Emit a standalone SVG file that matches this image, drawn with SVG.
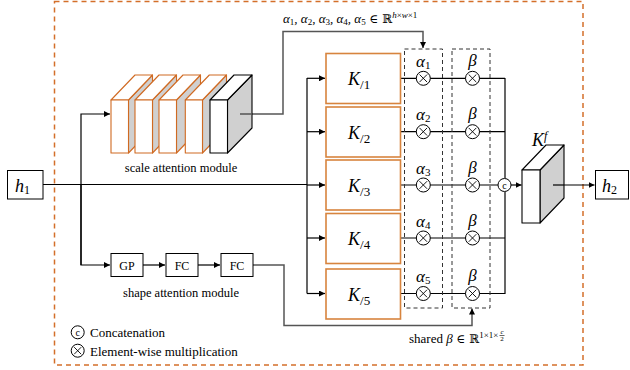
<svg xmlns="http://www.w3.org/2000/svg" width="630" height="370" viewBox="0 0 630 370">
<defs>
<marker id="ah" viewBox="0 0 10 10" refX="10" refY="5" markerWidth="6" markerHeight="6" markerUnits="userSpaceOnUse" orient="auto"><path d="M0,0 L10,5 L0,10 z" fill="#000"/></marker>
</defs>
<style>
text{font-family:'Liberation Serif','Times New Roman',serif;fill:#000}
.m{font-style:italic}
.sym{font-family:'DejaVu Serif','Liberation Serif',serif;font-style:normal}
.ln{fill:none;stroke:#000;stroke-width:1.2}
.lg{fill:none;stroke:#555;stroke-width:1.5}
.kbox{fill:#fff;stroke:#D7843E;stroke-width:1.6}
.box{fill:#fff;stroke:#000;stroke-width:1}
.oface{stroke:#D06A22;stroke-width:1.1;stroke-linejoin:round}
.bface{stroke:#000;stroke-width:1.1;stroke-linejoin:round}
.white{fill:#fff}
.grey{fill:#d0d0d0}
.dash{fill:none;stroke:#333;stroke-width:1;stroke-dasharray:4,3}
.op{fill:#fff;stroke:#000;stroke-width:1}
.x{stroke:#000;stroke-width:0.9}
</style>
<rect id="frame" x="54.5" y="1.5" width="528.5" height="363.5" fill="none" stroke="#D46F2A" stroke-width="1.5" stroke-dasharray="5,4"/>

<g id="connectors">
<line class="ln" x1="43" y1="184.5" x2="307" y2="184.5" stroke-width="1.8"/>
<polyline class="ln" points="81,265 81,114 110,114" marker-end="url(#ah)"/>
<polyline class="ln" points="81,185 81,265 110,265" marker-end="url(#ah)"/>
<line class="ln" x1="143" y1="265" x2="165" y2="265" marker-end="url(#ah)"/>
<line class="ln" x1="198" y1="265" x2="220" y2="265" marker-end="url(#ah)"/>
<polyline class="lg" points="240,114 283,114 283,31.5 423,31.5 423,48" marker-end="url(#ah)"/>
<polyline class="lg" points="253,265 284,265 284,325.5 472,325.5 472,308.5" marker-end="url(#ah)"/>
<line class="ln" x1="307" y1="78" x2="307" y2="293.5"/>
<line class="ln" x1="307" y1="78.3" x2="325" y2="78.3" marker-end="url(#ah)"/>
<line class="ln" x1="307" y1="131.7" x2="325" y2="131.7" marker-end="url(#ah)"/>
<line class="ln" x1="307" y1="185" x2="325" y2="185" marker-end="url(#ah)"/>
<line class="ln" x1="307" y1="238" x2="325" y2="238" marker-end="url(#ah)"/>
<line class="ln" x1="307" y1="293.5" x2="325" y2="293.5" marker-end="url(#ah)"/>
<polyline class="ln" points="401,78.3 505,78.3"/>
<polyline class="ln" points="401,131.7 505,131.7"/>
<polyline class="ln" points="401,185 498,185"/>
<polyline class="ln" points="401,238 505,238"/>
<polyline class="ln" points="401,293.5 505,293.5"/>
<line class="ln" x1="505" y1="78" x2="505" y2="178"/>
<line class="ln" x1="505" y1="192" x2="505" y2="294"/>
<line class="ln" x1="511" y1="185" x2="521.5" y2="185" marker-end="url(#ah)"/>
<line class="ln" x1="553" y1="185" x2="594.5" y2="185" marker-end="url(#ah)"/>
</g>

<g id="h1"><rect class="box" x="7.5" y="170.5" width="35.5" height="28.5"/><text class="m" x="15" y="192" font-size="18">h<tspan font-size="12" font-style="normal" dy="2">1</tspan></text></g>
<g id="h2"><rect class="box" x="595.5" y="170.5" width="33" height="28.5"/><text class="m" x="602" y="192" font-size="18">h<tspan font-size="12" font-style="normal" dy="2">2</tspan></text></g>

<g id="scale-stack">
<g class="oface">
<polygon class="grey" points="128.5,100 152.5,75 152.5,128 128.5,153"/><polygon class="white" points="111,100 135,75 152.5,75 128.5,100"/><rect class="white" x="111" y="100" width="17.5" height="53"/>
<polygon class="grey" points="152.5,100 176.5,75 176.5,128 152.5,153"/><polygon class="white" points="135,100 159,75 176.5,75 152.5,100"/><rect class="white" x="135" y="100" width="17.5" height="53"/>
<polygon class="grey" points="176.5,100 200.5,75 200.5,128 176.5,153"/><polygon class="white" points="159,100 183,75 200.5,75 176.5,100"/><rect class="white" x="159" y="100" width="17.5" height="53"/>
<polygon class="grey" points="202.5,100 226.5,75 226.5,128 202.5,153"/><polygon class="white" points="185.3,100 209.3,75 226.5,75 202.5,100"/><rect class="white" x="185.3" y="100" width="17.2" height="53"/>
</g>
<g class="bface">
<polygon class="grey" points="227.5,100 252,75 252,128 227.5,153"/><polygon class="white" points="210,100 234,75 252,75 227.5,100"/><rect class="white" x="210" y="100" width="17.5" height="53"/>
</g>
<line x1="240" y1="114" x2="252" y2="114" stroke="#555" stroke-width="1.5"/>
<text x="181" y="171.5" font-size="12.5" text-anchor="middle">scale attention module</text>
</g>

<g id="shape-module">
<rect class="box" x="111" y="253.5" width="32" height="23"/><text x="127" y="269.5" font-size="12" text-anchor="middle">GP</text>
<rect class="box" x="166" y="253.5" width="32" height="23"/><text x="182" y="269.5" font-size="12" text-anchor="middle">FC</text>
<rect class="box" x="221" y="253.5" width="32" height="23"/><text x="237" y="269.5" font-size="12" text-anchor="middle">FC</text>
<text x="181" y="296.5" font-size="12.5" text-anchor="middle">shape attention module</text>
</g>

<text class="m" x="283" y="23" font-size="13">α<tspan font-size="9" font-style="normal" dy="2">1</tspan><tspan dy="-2">, α</tspan><tspan font-size="9" font-style="normal" dy="2">2</tspan><tspan dy="-2">, α</tspan><tspan font-size="9" font-style="normal" dy="2">3</tspan><tspan dy="-2">, α</tspan><tspan font-size="9" font-style="normal" dy="2">4</tspan><tspan dy="-2">, α</tspan><tspan font-size="9" font-style="normal" dy="2">5</tspan><tspan class="sym" dy="-2" font-size="12"> ∈ ℝ</tspan><tspan font-size="9" dy="-5">h</tspan><tspan font-size="9" font-style="normal">×</tspan><tspan font-size="9">w</tspan><tspan font-size="9" font-style="normal">×1</tspan></text>

<g id="K1"><rect class="kbox" x="326" y="53.5" width="74.5" height="50"/><text class="m" x="348" y="85" font-size="18">K<tspan font-size="13" font-style="normal" dy="4">/1</tspan></text></g>
<g id="K2"><rect class="kbox" x="326" y="107" width="74.5" height="50"/><text class="m" x="348" y="138.5" font-size="18">K<tspan font-size="13" font-style="normal" dy="4">/2</tspan></text></g>
<g id="K3"><rect class="kbox" x="326" y="160" width="74.5" height="50"/><text class="m" x="348" y="191.5" font-size="18">K<tspan font-size="13" font-style="normal" dy="4">/3</tspan></text></g>
<g id="K4"><rect class="kbox" x="326" y="213.5" width="74.5" height="50"/><text class="m" x="348" y="245" font-size="18">K<tspan font-size="13" font-style="normal" dy="4">/4</tspan></text></g>
<g id="K5"><rect class="kbox" x="326" y="269" width="74.5" height="50"/><text class="m" x="348" y="300.5" font-size="18">K<tspan font-size="13" font-style="normal" dy="4">/5</tspan></text></g>

<g id="alpha-col">
<rect class="dash" x="404.5" y="49" width="38" height="259"/>
<g id="a1"><circle class="op" cx="423.3" cy="78.3" r="7"/><path class="x" d="M419.5,74.5 l7.6,7.6 M427.1,74.5 l-7.6,7.6"/><text class="m" x="416" y="67" font-size="17">α<tspan font-size="11" font-style="normal" dy="2">1</tspan></text></g>
<g id="a2"><circle class="op" cx="423.3" cy="131.7" r="7"/><path class="x" d="M419.5,127.9 l7.6,7.6 M427.1,127.9 l-7.6,7.6"/><text class="m" x="416" y="120.4" font-size="17">α<tspan font-size="11" font-style="normal" dy="2">2</tspan></text></g>
<g id="a3"><circle class="op" cx="423.3" cy="185" r="7"/><path class="x" d="M419.5,181.2 l7.6,7.6 M427.1,181.2 l-7.6,7.6"/><text class="m" x="416" y="173.7" font-size="17">α<tspan font-size="11" font-style="normal" dy="2">3</tspan></text></g>
<g id="a4"><circle class="op" cx="423.3" cy="238" r="7"/><path class="x" d="M419.5,234.2 l7.6,7.6 M427.1,234.2 l-7.6,7.6"/><text class="m" x="416" y="226.7" font-size="17">α<tspan font-size="11" font-style="normal" dy="2">4</tspan></text></g>
<g id="a5"><circle class="op" cx="423.3" cy="293.5" r="7"/><path class="x" d="M419.5,289.7 l7.6,7.6 M427.1,289.7 l-7.6,7.6"/><text class="m" x="416" y="282.2" font-size="17">α<tspan font-size="11" font-style="normal" dy="2">5</tspan></text></g>
</g>

<g id="beta-col">
<rect class="dash" x="452" y="49" width="38" height="259"/>
<g id="b1"><circle class="op" cx="472.5" cy="78.3" r="7"/><path class="x" d="M468.7,74.5 l7.6,7.6 M476.3,74.5 l-7.6,7.6"/><text class="m" x="472.5" y="66" font-size="17" text-anchor="middle">β</text></g>
<g id="b2"><circle class="op" cx="472.5" cy="131.7" r="7"/><path class="x" d="M468.7,127.9 l7.6,7.6 M476.3,127.9 l-7.6,7.6"/><text class="m" x="472.5" y="119.4" font-size="17" text-anchor="middle">β</text></g>
<g id="b3"><circle class="op" cx="472.5" cy="185" r="7"/><path class="x" d="M468.7,181.2 l7.6,7.6 M476.3,181.2 l-7.6,7.6"/><text class="m" x="472.5" y="172.7" font-size="17" text-anchor="middle">β</text></g>
<g id="b4"><circle class="op" cx="472.5" cy="238" r="7"/><path class="x" d="M468.7,234.2 l7.6,7.6 M476.3,234.2 l-7.6,7.6"/><text class="m" x="472.5" y="225.7" font-size="17" text-anchor="middle">β</text></g>
<g id="b5"><circle class="op" cx="472.5" cy="293.5" r="7"/><path class="x" d="M468.7,289.7 l7.6,7.6 M476.3,289.7 l-7.6,7.6"/><text class="m" x="472.5" y="281.2" font-size="17" text-anchor="middle">β</text></g>
</g>

<g id="concat"><circle class="op" cx="504.5" cy="185" r="6.5"/><text x="504.5" y="188.5" font-size="10" text-anchor="middle">c</text></g>

<g id="Kf">
<g class="bface">
<polygon class="grey" points="540,170 564,145 564,198 540,223"/>
<polygon class="white" points="522,170 546,145 564,145 540,170"/>
<rect class="white" x="522" y="170" width="18" height="53"/>
</g>
<line x1="553" y1="185" x2="564" y2="185" stroke="#000" stroke-width="1.2"/>
<text class="m" x="532" y="146" font-size="18">K<tspan font-size="12" dy="-6">f</tspan></text>
</g>

<g id="beta-label">
<text class="m" x="409" y="343" font-size="13"><tspan font-style="normal">shared </tspan>β<tspan class="sym" font-size="12"> ∈ ℝ</tspan><tspan font-size="9" font-style="normal" dy="-5">1×1×</tspan></text>
<text class="m" x="502" y="333.5" font-size="7" text-anchor="middle">c</text>
<line x1="499.5" y1="335.5" x2="504.5" y2="335.5" stroke="#000" stroke-width="0.6"/>
<text x="502" y="341" font-size="7" text-anchor="middle">2</text>
</g>

<g id="legend">
<circle class="op" cx="77.7" cy="332.3" r="6.5"/><text x="77.7" y="335.8" font-size="10" text-anchor="middle">c</text>
<text x="90" y="337" font-size="13">Concatenation</text>
<circle class="op" cx="77.7" cy="350.7" r="6.5"/><path class="x" d="M74.2,347.2 l7,7 M81.2,347.2 l-7,7"/>
<text x="90" y="355.5" font-size="13">Element-wise multiplication</text>
</g>
</svg>
